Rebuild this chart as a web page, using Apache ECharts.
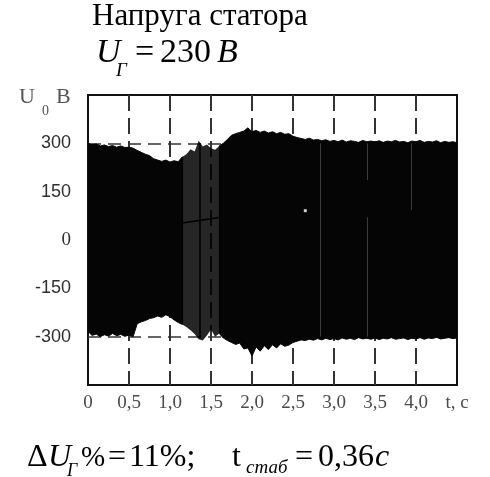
<!DOCTYPE html>
<html>
<head>
<meta charset="utf-8">
<script src="https://cdn.jsdelivr.net/npm/echarts@6/dist/echarts.min.js"></script>
<style>
  html, body { margin: 0; padding: 0; background: #fff; }
  #chart { width: 490px; height: 477px; }
</style>
</head>
<body>
<div id="chart"></div>
<script>
// Sample instants of the recorded stator voltage, s
const times = [
  0.00, 0.05, 0.10, 0.15, 0.20, 0.25, 0.30, 0.35, 0.40, 0.45,
  0.50, 0.55, 0.60, 0.65, 0.70, 0.75, 0.80, 0.85, 0.90, 0.95,
  1.00, 1.05, 1.10, 1.15, 1.20, 1.25, 1.30, 1.35, 1.40, 1.45,
  1.50, 1.55, 1.60, 1.65, 1.70, 1.75, 1.80, 1.85, 1.90, 1.95,
  2.00, 2.05, 2.10, 2.15, 2.20, 2.25, 2.30, 2.35, 2.40, 2.45,
  2.50, 2.55, 2.60, 2.65, 2.70, 2.75, 2.80, 2.85, 2.90, 2.95,
  3.00, 3.05, 3.10, 3.15, 3.20, 3.25, 3.30, 3.35, 3.40, 3.45,
  3.50, 3.55, 3.60, 3.65, 3.70, 3.75, 3.80, 3.85, 3.90, 3.95,
  4.00, 4.05, 4.10, 4.15, 4.20, 4.25, 4.30, 4.35, 4.40, 4.45,
  4.50
];

// Positive peaks of the phase voltage, V
const upperEnvelope = [
  300, 296, 298, 292, 295, 290, 293, 288, 292, 287,
  288, 285, 278, 272, 266, 262, 252, 248, 244, 248,
  242, 246, 243, 258, 266, 282, 275, 308, 290, 296,
  285, 280, 292, 300, 312, 325, 330, 334, 338, 348,
  336, 340, 334, 338, 332, 336, 330, 334, 328, 330,
  322, 318, 315, 312, 316, 310, 312, 308, 311, 306,
  309, 305, 310, 304, 308, 306, 303, 309, 305, 307,
  304, 308, 303, 307, 305, 309, 304, 306, 302, 307,
  305, 309, 303, 306, 304, 308, 302, 306, 303, 305,
  302
];

// Negative peaks of the phase voltage, V
const lowerEnvelope = [
  -284, -296, -292, -300, -294, -298, -290, -297, -293, -299,
  -295, -300, -260, -254, -250, -244, -241, -236, -240, -232,
  -238, -248, -256, -262, -270, -280, -292, -308, -312, -296,
  -278, -300, -290, -304, -312, -318, -324, -320, -338, -335,
  -360, -332, -345, -328, -340, -325, -335, -322, -330, -326,
  -318, -314, -310, -312, -308, -311, -306, -310, -305, -309,
  -306, -310, -304, -308, -305, -309, -303, -307, -305, -308,
  -304, -309, -305, -307, -303, -308, -306, -304, -309, -305,
  -307, -303, -308, -304, -306, -302, -307, -305, -303, -306,
  -304
];

// Interval where the trace is drawn a shade lighter (switching transient)
const transientSpan = [1.15, 1.6];
// Switching instant and the drifting zero trace inside the transient
const switchInstant = [1.36, 300, -305];
const zeroDrift = [[1.15, 53], [1.6, 70]];

// Thin lighter streaks left in the trace: [t, from V, to V]
const streaks = [
  [2.83, 300, -300],
  [3.40, 300, 186],
  [3.40, 71, -300],
  [3.94, 300, 93]
];
// A single dropped sample
const droppedSample = [[2.65, 91]];

// Axis ticks and their captions
const xTicks = [0, 0.5, 1.0, 1.5, 2.0, 2.5, 3.0, 3.5, 4.0, 4.5];
const xTickLabels = ['0', '0,5', '1,0', '1,5', '2,0', '2,5', '3,0', '3,5', '4,0', 't, с'];
const yTickValues = [-300, -150, 0, 150, 300];
const yTickLabels = ['-300', '-150', '0', '150', '300'];
// Dashed reference grid
const gridTimes = [0.5, 1.0, 1.5, 2.0, 2.5, 3.0, 3.5, 4.0];
const refLevels = [300, -300];

const X_MIN = 0, X_MAX = 4.5, Y_MIN = -450, Y_MAX = 450;
const EPS = 1e-9;

const pairs = (vals) => times.map((t, i) => [t, vals[i]]);
const beforeSpan = (p) => p[0] <= transientSpan[0] + EPS;
const inSpan = (p) => p[0] >= transientSpan[0] - EPS && p[0] <= transientSpan[1] + EPS;
const afterSpan = (p) => p[0] >= transientSpan[1] - EPS;

function band(name, data, color, z, lineWidth) {
  return {
    name, type: 'line', data, z,
    showSymbol: false, symbol: 'none', silent: true,
    lineStyle: { color, width: lineWidth },
    areaStyle: { color, opacity: 1, origin: 0 }
  };
}

const TRACE = '#050505';
const TRACE_DIM = 'rgba(0,0,0,0.85)';

// Dashed grid sits under the trace and shows only where the trace is absent or dim
const dashV = { color: '#333', width: 2, type: [16, 7] };
const dashH = { color: '#333', width: 1.6, type: [13, 7] };
const gridMarks = [];
gridTimes.forEach(t => gridMarks.push([{ coord: [t, Y_MAX], lineStyle: dashV }, { coord: [t, Y_MIN] }]));
refLevels.forEach(v => gridMarks.push([{ coord: [X_MIN, v], lineStyle: dashH }, { coord: [X_MAX, v] }]));

// Fine details drawn over the trace
const solid = (color, width) => ({ color, width, type: 'solid' });
const overMarks = [];
streaks.forEach(s => overMarks.push([{ coord: [s[0], s[1]], lineStyle: solid('#3c3c3c', 1) }, { coord: [s[0], s[2]] }]));
const upAt = (t) => upperEnvelope[times.findIndex(x => Math.abs(x - t) < 1e-6)];
const lowAt = (t) => lowerEnvelope[times.findIndex(x => Math.abs(x - t) < 1e-6)];
transientSpan.forEach(t => overMarks.push([{ coord: [t, upAt(t)], lineStyle: solid('#000', 1.2) }, { coord: [t, lowAt(t)] }]));
overMarks.push([{ coord: [switchInstant[0], switchInstant[1]], lineStyle: solid('#000', 1.5) }, { coord: [switchInstant[0], switchInstant[2]] }]);
overMarks.push([{ coord: zeroDrift[0], lineStyle: solid('#000', 1.5) }, { coord: zeroDrift[1] }]);

const serif = 'Liberation Serif, Times New Roman, serif';

function txt(text, x, y, size, opts = {}) {
  return {
    type: 'text', x, y, silent: true,
    style: {
      text,
      fontFamily: serif,
      fontSize: size,
      fontStyle: opts.italic ? 'italic' : 'normal',
      fill: opts.color || '#000',
      align: 'left', textAlign: 'left',
      verticalAlign: 'middle', textVerticalAlign: 'middle'
    }
  };
}

const chart = echarts.init(document.getElementById('chart'), null, { renderer: 'canvas' });
chart.setOption({
  animation: false,
  backgroundColor: '#fff',
  grid: {
    left: 88, top: 95, width: 369, height: 290,
    show: true, borderColor: '#111', borderWidth: 2, backgroundColor: 'transparent'
  },
  xAxis: {
    type: 'value', min: X_MIN, max: X_MAX, interval: 0.5,
    axisLine: { show: false }, axisTick: { show: false }, splitLine: { show: false },
    axisLabel: {
      showMinLabel: true, showMaxLabel: true, margin: 9,
      fontFamily: serif, fontSize: 19, color: '#4a4a4a',
      formatter: (v) => {
        const i = xTicks.findIndex(t => Math.abs(t - v) < 1e-6);
        return i >= 0 ? xTickLabels[i] : '';
      }
    }
  },
  yAxis: {
    type: 'value', min: Y_MIN, max: Y_MAX, interval: 150,
    axisLine: { show: false }, axisTick: { show: false }, splitLine: { show: false },
    axisLabel: {
      margin: 17,
      fontFamily: 'Liberation Sans, Arial, sans-serif', fontSize: 18, color: '#2f2f2f',
      formatter: (v) => {
        const i = yTickValues.indexOf(v);
        if (i < 0) return '';
        return v === 0 ? '{s|' + yTickLabels[i] + '}' : yTickLabels[i];
      },
      rich: { s: { fontFamily: serif, fontSize: 19, color: '#333' } }
    }
  },
  series: [
    {
      name: 'grid', type: 'line', data: [], z: 1, silent: true,
      markLine: { z: 1, symbol: ['none', 'none'], silent: true, animation: false, label: { show: false }, data: gridMarks }
    },
    band('upperBefore', pairs(upperEnvelope).filter(beforeSpan), TRACE, 2, 1),
    band('lowerBefore', pairs(lowerEnvelope).filter(beforeSpan), TRACE, 2, 1),
    band('upperTransient', pairs(upperEnvelope).filter(inSpan), TRACE_DIM, 2, 0),
    band('lowerTransient', pairs(lowerEnvelope).filter(inSpan), TRACE_DIM, 2, 0),
    band('upperAfter', pairs(upperEnvelope).filter(afterSpan), TRACE, 2, 1),
    band('lowerAfter', pairs(lowerEnvelope).filter(afterSpan), TRACE, 2, 1),
    {
      name: 'details', type: 'line', data: [], z: 8, silent: true,
      markLine: { z: 8, symbol: ['none', 'none'], silent: true, animation: false, label: { show: false }, data: overMarks }
    },
    {
      name: 'dropout', type: 'scatter', data: droppedSample, z: 9, silent: true,
      symbol: 'rect', symbolSize: 3, itemStyle: { color: '#fff' }
    }
  ],
  graphic: [
    txt('Напруга статора', 92, 17, 31),
    txt('U', 96, 53, 34, { italic: true }),
    txt('Г', 116, 71, 19, { italic: true }),
    txt('=', 135, 53, 34),
    txt('230', 160, 53, 34),
    txt('В', 217, 53, 34, { italic: true }),

    txt('U', 19, 97, 22, { color: '#555' }),
    txt('0', 42, 111, 14, { color: '#555' }),
    txt('В', 56, 97, 22, { color: '#555' }),

    txt('Δ', 27, 458, 32),
    txt('U', 48, 458, 32, { italic: true }),
    txt('Г', 67, 471, 18, { italic: true }),
    txt('%', 81, 458, 29),
    txt('=', 108, 458, 32),
    txt('11%;', 129, 458, 32),
    txt('t', 232, 458, 32),
    txt('стаб', 246, 468, 19, { italic: true }),
    txt('=', 295, 458, 32),
    txt('0,36', 318, 458, 32),
    txt('с', 375, 458, 32, { italic: true })
  ]
});
</script>
</body>
</html>
